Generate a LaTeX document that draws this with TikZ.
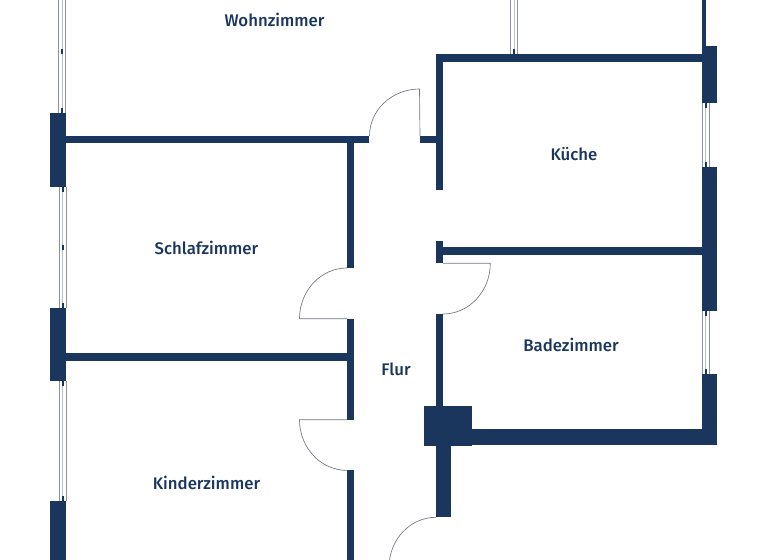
\documentclass[tikz,border=0pt]{standalone}
\usepackage{fontspec}
\setmainfont{Fira Sans}[UprightFont=* Medium]
\usetikzlibrary{positioning}
\definecolor{wallblue}{HTML}{1B365D}
\definecolor{doorgray}{HTML}{6F7680}
\definecolor{glassgray}{HTML}{8C939C}
\newcommand{\windowv}[4]{%
\draw[Glass] (#1,#2) -- (#1,#3);
\draw[Glass] (#1+7,#2) -- (#1+7,#3);
\draw[Bar] (#1+3.5,#2) -- (#1+3.5,#3);
\fill[wallblue] (#1+2.5,#2) rectangle (#1+4.5,#2+5);
\fill[wallblue] (#1+2.5,#3-5) rectangle (#1+4.5,#3);
\ifx#4\relax\else\fill[wallblue] (#1+2.5,#4-2.5) rectangle (#1+4.5,#4+2.5);\fi
}
\begin{document}
\begin{tikzpicture}[
x=0.75pt,y=-0.75pt,
Walls/.style={fill=wallblue,draw=none},
Doors/.style={draw=doorgray,line width=0.5pt},
Glass/.style={draw=glassgray,line width=0.65pt},
Bar/.style={draw=glassgray!60,line width=0.3pt},
RoomLabel/.style={text=wallblue,font=\fontsize{12.6}{15}\selectfont,inner sep=0pt}
]
\useasboundingbox (0,0) rectangle (768,560);
\clip (0,0) rectangle (768,560);

% windows
\windowv{58.7}{-6}{112.7}{52}
\windowv{59}{187.3}{308.3}{247.7}
\windowv{59}{380.7}{501}{441}
\windowv{510.3}{-6}{54.3}{\relax}
\windowv{702}{103.3}{166.7}{\relax}
\windowv{702}{310.7}{374}{\relax}

% outer piers
\fill[Walls] (50,112.7) rectangle (66,187.3);
\fill[Walls] (50,308.3) rectangle (66.3,380.7);
\fill[Walls] (50,501) rectangle (66.3,560);
\fill[Walls] (702.3,-1) rectangle (706.3,46.3);
\fill[Walls] (702,46.3) rectangle (717.3,103.3);
\fill[Walls] (702,166.7) rectangle (717.3,310.7);
\fill[Walls] (702,374) rectangle (717.3,445);

% inner walls
\fill[Walls] (66,135.7) rectangle (369,143.3);
\fill[Walls] (346.7,143.3) rectangle (354.3,267.7);
\fill[Walls] (346.7,318.7) rectangle (354.3,419.7);
\fill[Walls] (66,353) rectangle (347,360.7);
\fill[Walls] (346.7,470.3) rectangle (354.3,560);
\fill[Walls] (419.7,136) rectangle (436,143.3);
\fill[Walls] (435.7,54.3) rectangle (443.3,190);
\fill[Walls] (435.7,54.3) rectangle (702,62.3);
\fill[Walls] (435.7,240.7) rectangle (443.3,263.3);
\fill[Walls] (443,247.3) rectangle (702,255);
\fill[Walls] (435.7,313.7) rectangle (443.3,406);
\fill[Walls] (423.7,406) rectangle (472,446);
\fill[Walls] (472,429.3) rectangle (702,445);
\fill[Walls] (435.7,446) rectangle (451.3,517.3);

% doors
\draw[Doors] (369.5,136) arc[start angle=180,end angle=270,x radius=50,y radius=47] -- (420,136);
\draw[Doors] (347,268) arc[start angle=270,end angle=180,x radius=47.5,y radius=50.7] -- (347,318.7);
\draw[Doors] (443,263.3) -- (490.3,263.3) arc[start angle=0,end angle=90,x radius=47.3,y radius=50.7];
\draw[Doors] (347,419.7) -- (299.5,419.7) arc[start angle=180,end angle=90,x radius=47.5,y radius=50.7];
\draw[Doors] (436,517.3) arc[start angle=270,end angle=180,x radius=47,y radius=50];

% rooms
\node[RoomLabel] (wohn) at (274.5,19.5) {Wohnzimmer};
\node[RoomLabel] (kueche) at (574,154.5) {Küche};
\node[RoomLabel] (schlaf) at (206.5,247.5) {Schlafzimmer};
\node[RoomLabel] (bad) at (571,344.5) {Badezimmer};
\node[RoomLabel] (flur) at (396,369.5) {Flur};
\node[RoomLabel] (kinder) at (206.5,482.5) {Kinderzimmer};
\end{tikzpicture}
\end{document}
